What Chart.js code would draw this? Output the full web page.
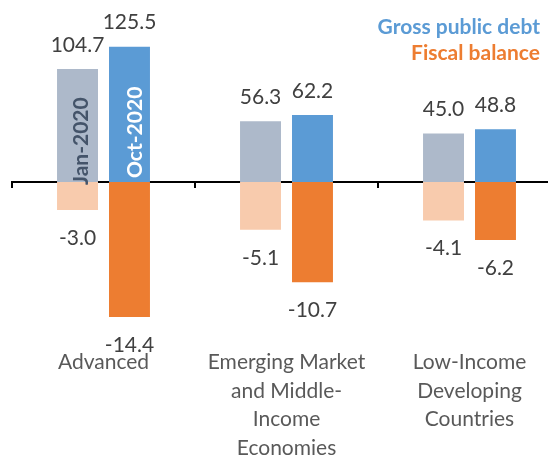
<!DOCTYPE html>
<html>
<head>
<meta charset="utf-8">
<script src="https://cdn.jsdelivr.net/npm/chart.js@4.4.1/dist/chart.umd.min.js"></script>
<style>
html, body { margin: 0; padding: 0; overflow: hidden; background: #fff; }
#wrap { width: 561px; height: 462px; }
</style>
</head>
<body>
<div id="wrap"><canvas id="fiscalChart"></canvas></div>
<script>
// country groups (multi-line tick labels)
var regions = [
    ['Advanced'],
    ['Emerging Market', 'and Middle-', 'Income', 'Economies'],
    ['Low-Income', 'Developing', 'Countries']
];

// gross public debt, % of GDP
var debtJan2020 = [104.7, 56.3, 45.0];
var debtOct2020 = [125.5, 62.2, 48.8];

// fiscal balance, % of GDP
var balanceJan2020 = [-3.0, -5.1, -4.1];
var balanceOct2020 = [-14.4, -10.7, -6.2];

var vintages = ['Jan-2020', 'Oct-2020'];
var seriesNames = ['Gross public debt', 'Fiscal balance'];

const FONT = 'Lato';

// value labels above / below each bar + vintage names + series key
const barLabels = {
    id: 'barLabels',
    afterDatasetsDraw(chart) {
        const ctx = chart.ctx;
        ctx.save();
        ctx.font = '21px ' + FONT;
        ctx.fillStyle = '#404040';
        ctx.textAlign = 'center';
        ctx.textBaseline = 'middle';
        chart.data.datasets.forEach((ds, i) => {
            chart.getDatasetMeta(i).data.forEach((bar, j) => {
                const v = ds.data[j];
                const y = v >= 0 ? bar.y - 24 : bar.y + 28;
                ctx.fillText(v.toFixed(1), bar.x, y);
            });
        });

        // rotated vintage names inside the first pair of debt bars
        ctx.font = 'bold 21px ' + FONT;
        ctx.textAlign = 'left';
        const inner = [
            { meta: 0, dx: 4, dy: 3, color: '#44546A' },
            { meta: 1, dx: 6, dy: -4, color: '#ffffff' }
        ];
        inner.forEach((s, k) => {
            const bar = chart.getDatasetMeta(s.meta).data[0];
            ctx.save();
            ctx.translate(bar.x + s.dx, bar.base + s.dy);
            ctx.rotate(-Math.PI / 2);
            ctx.fillStyle = s.color;
            ctx.fillText(vintages[k], 0, 0);
            ctx.restore();
        });

        // series key, top right
        const right = chart.chartArea.right - 21;
        ctx.textAlign = 'right';
        ctx.fillStyle = '#5B9BD5';
        ctx.fillText(seriesNames[0], right, 27);
        ctx.fillStyle = '#ED7D31';
        ctx.fillText(seriesNames[1], right, 53);
        ctx.restore();
    }
};

var ctx = document.getElementById('fiscalChart').getContext('2d');

var fiscalChart = new Chart(ctx, {
    type: 'bar',
    data: {
        labels: regions,
        datasets: [
            { label: seriesNames[0] + ' ' + vintages[0], data: debtJan2020, backgroundColor: '#ADB9CA', stack: 'jan', xAxisID: 'x', yAxisID: 'y' },
            { label: seriesNames[0] + ' ' + vintages[1], data: debtOct2020, backgroundColor: '#5B9BD5', stack: 'oct', xAxisID: 'x', yAxisID: 'y' },
            { label: seriesNames[1] + ' ' + vintages[0], data: balanceJan2020, backgroundColor: '#F8CBAD', stack: 'jan', xAxisID: 'x', yAxisID: 'y2' },
            { label: seriesNames[1] + ' ' + vintages[1], data: balanceOct2020, backgroundColor: '#ED7D31', stack: 'oct', xAxisID: 'x', yAxisID: 'y2' }
        ]
    },
    options: {
        responsive: true,
        maintainAspectRatio: false,
        animation: false,
        categoryPercentage: 0.568,
        barPercentage: 0.788,
        layout: { padding: { left: 12, right: 0, top: 0, bottom: 0 } },
        plugins: {
            legend: { display: false },
            tooltip: { enabled: false }
        },
        scales: {
            x: {
                position: 'bottom',
                grid: { display: false, drawTicks: false },
                border: { display: false },
                ticks: {
                    color: '#595959',
                    font: { family: FONT, size: 21, lineHeight: 1.357 },
                    padding: 0,
                    maxRotation: 0,
                    autoSkip: false
                }
            },
            // zero line with category separators
            xZero: {
                type: 'category',
                labels: regions,
                position: { y: 0 },
                offset: true,
                grid: {
                    display: true,
                    offset: true,
                    drawOnChartArea: false,
                    drawTicks: true,
                    tickLength: 5,
                    color: '#000',
                    lineWidth: 2
                },
                border: { display: true, color: '#000', width: 2 },
                ticks: { display: false }
            },
            y: { display: false, min: -154, max: 168.8 },
            y2: { display: false, min: -17.72, max: 19.42 }
        }
    },
    plugins: [barLabels]
});
</script>
</body>
</html>
